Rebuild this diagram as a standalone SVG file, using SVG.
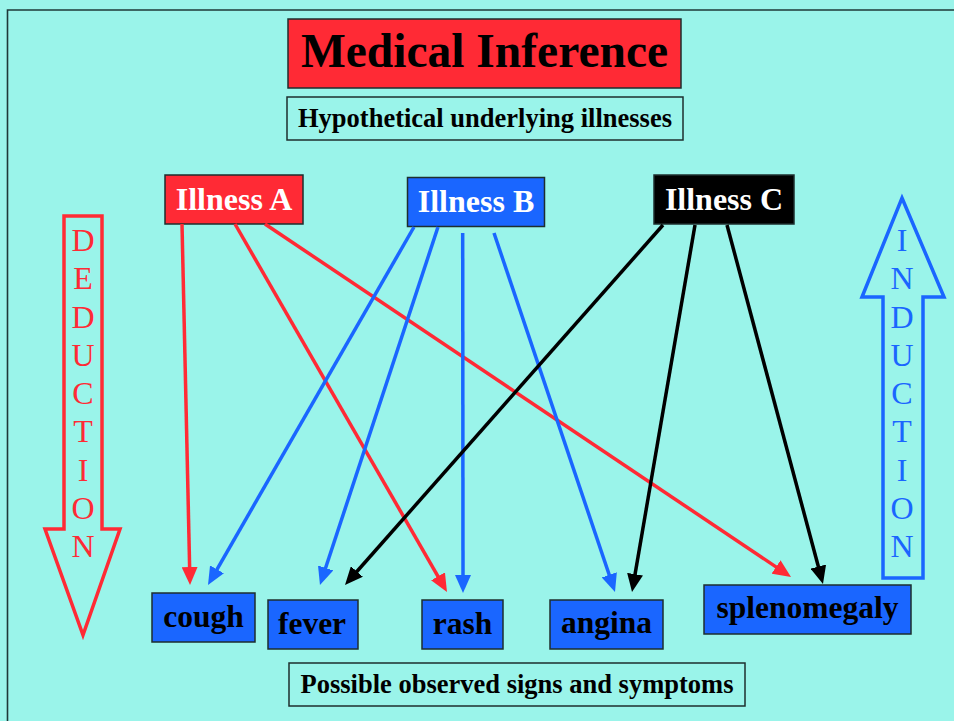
<svg xmlns="http://www.w3.org/2000/svg" width="954" height="721" viewBox="0 0 954 721">
<defs>
<style>
.box{stroke:#1e2e2e;stroke-width:1.5}
.t{font-family:"Liberation Serif","Times New Roman",serif;font-weight:bold;text-anchor:middle}
.lbl{font-family:"Liberation Serif","Times New Roman",serif;font-size:32px;text-anchor:middle}
.red{stroke:#ff2a35}
.blue{stroke:#1a66ff}
.blk{stroke:#000}
.edge{stroke-width:3.5;fill:none}
</style>
<marker id="ar" markerUnits="userSpaceOnUse" markerWidth="18" markerHeight="16" refX="8" refY="8" orient="auto"><path d="M0,0 L18,8 L0,16 z" fill="#ff2a35"/></marker>
<marker id="ab" markerUnits="userSpaceOnUse" markerWidth="18" markerHeight="16" refX="8" refY="8" orient="auto"><path d="M0,0 L18,8 L0,16 z" fill="#1a66ff"/></marker>
<marker id="ak" markerUnits="userSpaceOnUse" markerWidth="18" markerHeight="16" refX="8" refY="8" orient="auto"><path d="M0,0 L18,8 L0,16 z" fill="#000"/></marker>
</defs>
<rect x="0" y="0" width="954" height="721" fill="#9af4ea"/>
<path d="M7.5,721 V10 H954" fill="none" stroke="#1e3838" stroke-width="1.6"/>

<g id="title">
<rect class="box" x="288" y="19" width="393" height="69" fill="#ff2a35"/>
<text class="t" x="484.5" y="67" font-size="47.5">Medical Inference</text>
</g>
<g id="subtitle">
<rect class="box" x="287" y="97" width="396" height="43" fill="none"/>
<text class="t" x="485" y="127" font-size="26.5">Hypothetical underlying illnesses</text>
</g>

<g id="illnessA">
<rect class="box" x="165" y="175" width="138" height="49" fill="#ff2a35"/>
<text class="t" x="234" y="210" font-size="32" fill="#fff">Illness A</text>
</g>
<g id="illnessB">
<rect class="box" x="407.5" y="177.5" width="137" height="49" fill="#1a66ff"/>
<text class="t" x="476" y="212" font-size="32" fill="#fff">Illness B</text>
</g>
<g id="illnessC">
<rect class="box" x="654" y="175" width="140" height="49" fill="#000"/>
<text class="t" x="724" y="210" font-size="32" fill="#fff">Illness C</text>
</g>

<g id="connectors" class="edge">
<path class="red edge" d="M182,224 L189.8,575" marker-end="url(#ar)"/>
<path class="red edge" d="M235,224 L442,583.3" marker-end="url(#ar)"/>
<path class="red edge" d="M265,224 L782.7,571.4" marker-end="url(#ar)"/>
<path class="blue edge" d="M414,227 L213,576.3" marker-end="url(#ab)"/>
<path class="blue edge" d="M438,227 L323.1,575.5" marker-end="url(#ab)"/>
<path class="blue edge" d="M462.7,233 L463,583" marker-end="url(#ab)"/>
<path class="blue edge" d="M494,233 L611.8,582.5" marker-end="url(#ab)"/>
<path class="blk edge" d="M663,225 L351.6,577.5" marker-end="url(#ak)"/>
<path class="blk edge" d="M695,225 L633.7,582.1" marker-end="url(#ak)"/>
<path class="blk edge" d="M727,225 L820.4,574.3" marker-end="url(#ak)"/>
</g>

<g id="cough">
<rect class="box" x="152" y="593" width="103" height="49" fill="#1a66ff"/>
<text class="t" x="203.5" y="627" font-size="31.5">cough</text>
</g>
<g id="fever">
<rect class="box" x="268" y="600" width="90" height="49" fill="#1a66ff"/>
<text class="t" x="312" y="634" font-size="31.5">fever</text>
</g>
<g id="rash">
<rect class="box" x="422" y="600" width="81" height="49" fill="#1a66ff"/>
<text class="t" x="462.5" y="634" font-size="31.5">rash</text>
</g>
<g id="angina">
<rect class="box" x="550" y="600" width="113" height="49" fill="#1a66ff"/>
<text class="t" x="606.5" y="633" font-size="31.5">angina</text>
</g>
<g id="splenomegaly">
<rect class="box" x="704" y="585" width="207" height="49" fill="#1a66ff"/>
<text class="t" x="807.5" y="618" font-size="31.5">splenomegaly</text>
</g>

<g id="signs">
<rect class="box" x="289" y="663" width="456" height="43" fill="none"/>
<text class="t" x="517" y="693" font-size="26.5">Possible observed signs and symptoms</text>
</g>

<g id="deduction">
<polygon points="64,216 102,216 102,529 120,529 83,635 45,529 64,529" fill="none" stroke="#ff2a35" stroke-width="3.5"/>
<g class="lbl" fill="#ff2a35">
<text x="83" y="251">D</text>
<text x="83" y="289.3">E</text>
<text x="83" y="327.5">D</text>
<text x="83" y="365.8">U</text>
<text x="83" y="404">C</text>
<text x="83" y="442.3">T</text>
<text x="83" y="480.5">I</text>
<text x="83" y="518.8">O</text>
<text x="83" y="557">N</text>
</g>
</g>

<g id="induction">
<polygon points="902,198 944,297 923,297 923,578 883,578 883,297 862,297" fill="none" stroke="#1a66ff" stroke-width="3.5"/>
<g class="lbl" fill="#1a66ff">
<text x="902" y="251">I</text>
<text x="902" y="289.3">N</text>
<text x="902" y="327.5">D</text>
<text x="902" y="365.8">U</text>
<text x="902" y="404">C</text>
<text x="902" y="442.3">T</text>
<text x="902" y="480.5">I</text>
<text x="902" y="518.8">O</text>
<text x="902" y="557">N</text>
</g>
</g>
</svg>
